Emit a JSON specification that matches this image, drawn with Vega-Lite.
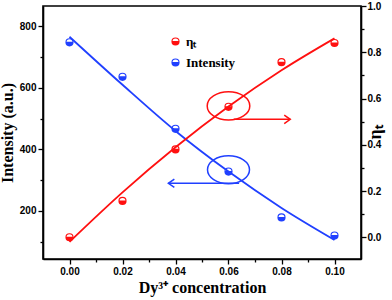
{
  "$schema": "https://vega.github.io/schema/vega-lite/v6.json",
  "width": 318,
  "height": 253,
  "autosize": "none",
  "padding": {"left": 43, "top": 6, "right": 31, "bottom": 41},
  "background": "white",
  "config": {
    "view": {"stroke": "black", "strokeWidth": 1.6},
    "axis": {
      "grid": false,
      "labelFont": "Liberation Sans",
      "labelFontWeight": "bold",
      "labelFontSize": 10,
      "labelColor": "black",
      "labelFlush": false,
      "labelOverlap": false,
      "titleFont": "Liberation Serif",
      "titleFontWeight": "bold",
      "titleFontSize": 16,
      "titleColor": "black",
      "domainColor": "black",
      "domainWidth": 1.6,
      "tickColor": "black",
      "tickWidth": 1.3
    }
  },
  "datasets": {
    "intPts": [
      {"conc": 0.0, "val": 748},
      {"conc": 0.02, "val": 636},
      {"conc": 0.04, "val": 467},
      {"conc": 0.06, "val": 328},
      {"conc": 0.08, "val": 179},
      {"conc": 0.10, "val": 120}
    ],
    "intFit": [
      {"conc": 0.0, "val": 766},
      {"conc": 0.02, "val": 610},
      {"conc": 0.04, "val": 460},
      {"conc": 0.06, "val": 328},
      {"conc": 0.08, "val": 210},
      {"conc": 0.10, "val": 106}
    ],
    "etaPts": [
      {"conc": 0.0, "val": 0.0},
      {"conc": 0.02, "val": 0.157},
      {"conc": 0.04, "val": 0.38},
      {"conc": 0.06, "val": 0.564},
      {"conc": 0.08, "val": 0.757},
      {"conc": 0.10, "val": 0.84}
    ],
    "etaFit": [
      {"conc": 0.0, "val": -0.02},
      {"conc": 0.02, "val": 0.194},
      {"conc": 0.04, "val": 0.389},
      {"conc": 0.06, "val": 0.565},
      {"conc": 0.08, "val": 0.722},
      {"conc": 0.10, "val": 0.86}
    ],
    "intMark": [{"conc": 0.06, "val": 334}],
    "intArrow": [{"conc": 0.064, "conc2": 0.0373, "val": 290}],
    "etaMark": [{"conc": 0.06, "val": 0.568}],
    "etaArrow": [{"conc": 0.062, "conc2": 0.0833, "val": 0.51}]
  },
  "encoding": {
    "x": {
      "field": "conc",
      "type": "quantitative",
      "scale": {"domain": [-0.01, 0.11], "nice": false, "zero": false},
      "axis": {
        "values": [0, 0.01, 0.02, 0.03, 0.04, 0.05, 0.06, 0.07, 0.08, 0.09, 0.1],
        "format": ".2f",
        "labelExpr": "round(datum.value*100) % 2 === 0 ? datum.label : ''",
        "tickSize": {"condition": {"test": "round(datum.value*100) % 2 === 0", "value": 5}, "value": 3},
        "labelPadding": 2,
        "title": "Dy³⁺ concentration",
        "titlePadding": 3
      }
    }
  },
  "layer": [
    {
      "encoding": {
        "y": {
          "field": "val",
          "type": "quantitative",
          "scale": {"domain": [44, 866], "nice": false, "zero": false},
          "axis": {
            "orient": "left",
            "values": [100, 200, 300, 400, 500, 600, 700, 800],
            "labelExpr": "datum.value % 200 === 0 ? datum.label : ''",
            "tickSize": {"condition": {"test": "datum.value % 200 === 0", "value": 5}, "value": 3},
            "labelPadding": 2,
            "title": "Intensity (a.u.)",
            "titlePadding": 4
          }
        }
      },
      "layer": [
        {
          "data": {"name": "intFit"},
          "mark": {"type": "line", "color": "#2040ff", "strokeWidth": 1.8, "interpolate": "monotone"}
        },
        {
          "data": {"name": "intPts"},
          "mark": {
            "type": "point",
            "filled": false,
            "opacity": 1,
            "size": 50,
            "strokeWidth": 1.1,
            "shape": "M-1,0C-1,-0.552,-0.552,-1,0,-1C0.552,-1,1,-0.552,1,0C1,0.552,0.552,1,0,1C-0.552,1,-1,0.552,-1,0ZM-1,0L1,0M-0.995,0.1L0.995,0.1M-0.98,0.2L0.98,0.2M-0.954,0.3L0.954,0.3M-0.917,0.4L0.917,0.4M-0.866,0.5L0.866,0.5M-0.8,0.6L0.8,0.6M-0.714,0.7L0.714,0.7M-0.6,0.8L0.6,0.8M-0.436,0.9L0.436,0.9"
          },
          "encoding": {
            "color": {
              "datum": "Intensity",
              "scale": {"domain": ["ηₜ", "Intensity"], "range": ["#ff1010", "#2040ff"]},
              "legend": {
                "title": null,
                "orient": "none",
                "legendX": 126,
                "legendY": 29,
                "padding": 0,
                "symbolType": "M-1,0C-1,-0.552,-0.552,-1,0,-1C0.552,-1,1,-0.552,1,0C1,0.552,0.552,1,0,1C-0.552,1,-1,0.552,-1,0ZM-1,0L1,0M-0.995,0.1L0.995,0.1M-0.98,0.2L0.98,0.2M-0.954,0.3L0.954,0.3M-0.917,0.4L0.917,0.4M-0.866,0.5L0.866,0.5M-0.8,0.6L0.8,0.6M-0.714,0.7L0.714,0.7M-0.6,0.8L0.6,0.8M-0.436,0.9L0.436,0.9",
                "symbolSize": 50,
                "symbolStrokeWidth": 1.1,
                "symbolOpacity": 1,
                "labelFont": "Liberation Serif",
                "labelFontWeight": "bold",
                "labelFontSize": 13,
                "labelColor": "black",
                "labelOffset": 4,
                "rowPadding": 7
              }
            }
          }
        },
        {
          "data": {"name": "intMark"},
          "mark": {
            "type": "point",
            "filled": false,
            "opacity": 1,
            "color": "#2040ff",
            "size": 1764,
            "strokeWidth": 1.5,
            "shape": "M-1,0C-1,-0.366,-0.552,-0.663,0,-0.663C0.552,-0.663,1,-0.366,1,0C1,0.366,0.552,0.663,0,0.663C-0.552,0.663,-1,0.366,-1,0Z"
          }
        },
        {
          "data": {"name": "intArrow"},
          "mark": {"type": "rule", "color": "#2040ff", "strokeWidth": 1.5},
          "encoding": {"x2": {"field": "conc2"}}
        },
        {
          "data": {"name": "intArrow"},
          "mark": {
            "type": "point",
            "filled": false,
            "opacity": 1,
            "color": "#2040ff",
            "size": 144,
            "strokeWidth": 1.5,
            "shape": "M1,-0.7L0,0L1,0.7"
          },
          "encoding": {"x": {"field": "conc2", "type": "quantitative"}}
        }
      ]
    },
    {
      "encoding": {
        "y": {
          "field": "val",
          "type": "quantitative",
          "scale": {"domain": [-0.094, 1.0], "nice": false, "zero": false},
          "axis": {
            "orient": "right",
            "values": [0, 0.1, 0.2, 0.3, 0.4, 0.5, 0.6, 0.7, 0.8, 0.9, 1.0],
            "format": ".1f",
            "labelExpr": "round(datum.value*10) % 2 === 0 ? datum.label : ''",
            "tickSize": {"condition": {"test": "round(datum.value*10) % 2 === 0", "value": 5}, "value": 3},
            "labelPadding": 1,
            "title": "ηₜ",
            "titleAngle": -90,
            "titleX": 14,
            "titleY": 126,
            "titleAlign": "center",
            "titleBaseline": "middle",
            "titleFontSize": 18
          }
        }
      },
      "layer": [
        {
          "data": {"name": "etaFit"},
          "mark": {"type": "line", "color": "#ff1010", "strokeWidth": 1.8, "interpolate": "monotone"}
        },
        {
          "data": {"name": "etaPts"},
          "mark": {
            "type": "point",
            "filled": false,
            "opacity": 1,
            "size": 50,
            "strokeWidth": 1.1,
            "shape": "M-1,0C-1,-0.552,-0.552,-1,0,-1C0.552,-1,1,-0.552,1,0C1,0.552,0.552,1,0,1C-0.552,1,-1,0.552,-1,0ZM-1,0L1,0M-0.995,0.1L0.995,0.1M-0.98,0.2L0.98,0.2M-0.954,0.3L0.954,0.3M-0.917,0.4L0.917,0.4M-0.866,0.5L0.866,0.5M-0.8,0.6L0.8,0.6M-0.714,0.7L0.714,0.7M-0.6,0.8L0.6,0.8M-0.436,0.9L0.436,0.9"
          },
          "encoding": {
            "color": {
              "datum": "ηₜ",
              "scale": {"domain": ["ηₜ", "Intensity"], "range": ["#ff1010", "#2040ff"]}
            }
          }
        },
        {
          "data": {"name": "etaMark"},
          "mark": {
            "type": "point",
            "filled": false,
            "opacity": 1,
            "color": "#ff1010",
            "size": 1814,
            "strokeWidth": 1.5,
            "shape": "M-1,0C-1,-0.366,-0.552,-0.663,0,-0.663C0.552,-0.663,1,-0.366,1,0C1,0.366,0.552,0.663,0,0.663C-0.552,0.663,-1,0.366,-1,0Z"
          }
        },
        {
          "data": {"name": "etaArrow"},
          "mark": {"type": "rule", "color": "#ff1010", "strokeWidth": 1.5},
          "encoding": {"x2": {"field": "conc2"}}
        },
        {
          "data": {"name": "etaArrow"},
          "mark": {
            "type": "point",
            "filled": false,
            "opacity": 1,
            "color": "#ff1010",
            "size": 144,
            "strokeWidth": 1.5,
            "shape": "M-1,-0.7L0,0L-1,0.7"
          },
          "encoding": {"x": {"field": "conc2", "type": "quantitative"}}
        }
      ]
    }
  ],
  "resolve": {"scale": {"y": "independent"}}
}
